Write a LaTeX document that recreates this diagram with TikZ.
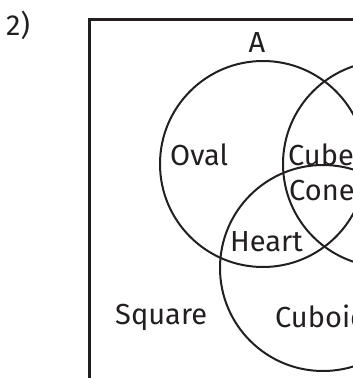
\documentclass[tikz,border=0pt]{standalone}
\usepackage{fontspec}
\setmainfont{Fira Sans}
\usepackage{tikz}
\definecolor{ink}{RGB}{35,31,32}

\begin{document}
\begin{tikzpicture}[x=1pt, y=-1pt,
  set/.style={circle, draw=ink, line width=2pt, minimum size=206pt, inner sep=0pt},
  lbl/.style={font=\fontsize{29}{32}\selectfont, text=ink, inner sep=0pt, anchor=base west}]
  \useasboundingbox (0,0) rectangle (353,378);
  \clip (0,0) rectangle (353,378);
  % universal set
  \node[draw=ink, line width=2.6pt, inner sep=0pt, outer sep=0pt, anchor=north west,
        minimum width=400pt, minimum height=400pt] (univ) at (89.5,19.5) {};
  % the three sets
  \node[set] (setA) at (263,164) {};
  \node[set] (setB) at (386,164) {};
  \node[set] (setC) at (323,268) {};
  % labels
  \node[lbl] (num) at (6,35) {2)};
  \node[lbl, anchor=base] (nameA) at (257,52) {A};
  \node[lbl] (oval) at (170,165) {Oval};
  \node[lbl] (cube) at (288,165) {Cube};
  \node[lbl] (cone) at (289,200) {Cone};
  \node[lbl] (heart) at (230,251) {Heart};
  \node[lbl] (square) at (115,324) {Square};
  \node[lbl] (cuboid) at (275,327) {Cuboid};
\end{tikzpicture}
\end{document}
